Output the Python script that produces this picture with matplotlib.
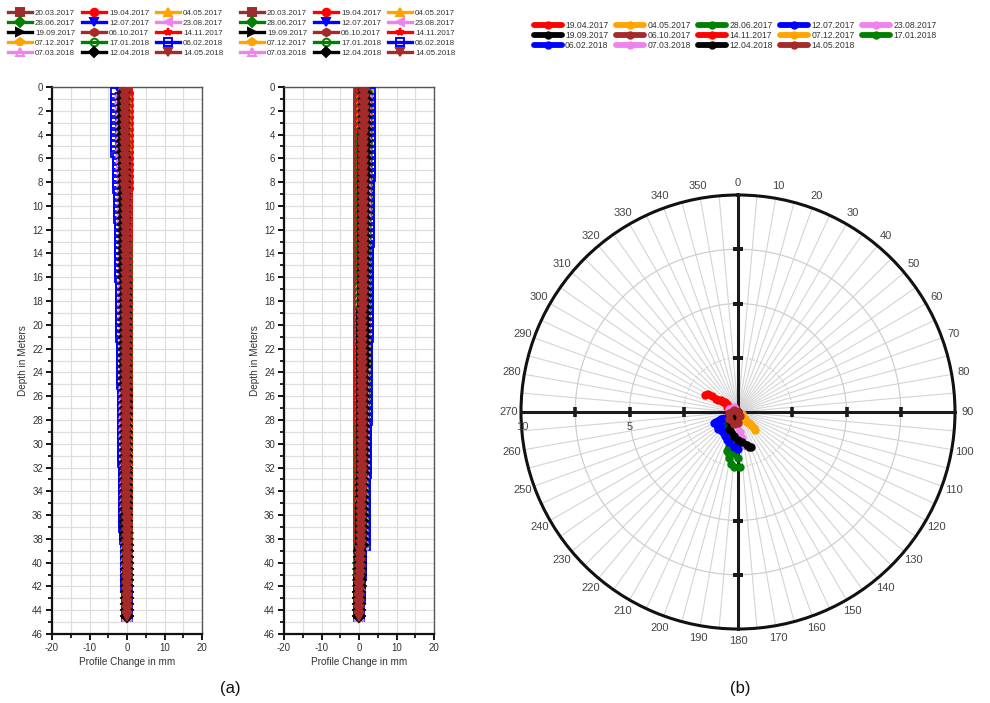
import numpy as np
import matplotlib
matplotlib.use('Agg')
import matplotlib.pyplot as plt
from matplotlib.lines import Line2D

plt.rcParams['font.family'] = ['Liberation Sans', 'DejaVu Sans']
plt.rcParams['axes.unicode_minus'] = False

# ---------------- data ----------------
dates = ['20.03.2017', '19.04.2017', '04.05.2017', '28.06.2017', '12.07.2017',
         '23.08.2017', '19.09.2017', '06.10.2017', '14.11.2017', '07.12.2017',
         '17.01.2018', '06.02.2018', '07.03.2018', '12.04.2018', '14.05.2018']

depth = np.arange(0.5, 44.51, 0.5)   # reading depths (m), 89 readings

# A-axis profile change (mm)
a_20032017 = np.zeros(89)
a_19042017 = [0.3,0.3,0.3,0.2,0.2,0.2,0.2,0.2,0.2,0.2,
              0.2,0.2,0.2,0.2,0.2,0.2,0.2,0.1,0.1,0.1,
              0.1,0.1,0.1,0.1,0.1,0.1,0.1,0.1,0.1,0.1,
              0.1,0.1,0.1,0.1,0.1,0.1,0.1,0.1,0.1,0.1,
              0.1,0.1,0.1,0.1,0.1,0.1,0.1,0.1,0.1,0.1,
              0.1,0.1,0.1,0.1,0.1,0.1,0.1,0.1,0.1,0.1,
              0.1,0.1,0.1,0.1,0.1,0.1,0.1,0.1,0.1,0.1,
              0.1,0.0,0.0,0.0,0.0,0.0,0.0,0.0,0.0,0.0,
              0.0,0.0,0.0,0.0,0.0,0.0,0.0,0.0,0.0]
a_04052017 = [-0.4,-0.4,-0.4,-0.4,-0.4,-0.4,-0.4,-0.4,-0.4,-0.4,
              -0.4,-0.3,-0.3,-0.3,-0.3,-0.3,-0.3,-0.3,-0.3,-0.3,
              -0.3,-0.3,-0.3,-0.3,-0.3,-0.3,-0.3,-0.3,-0.3,-0.2,
              -0.2,-0.2,-0.2,-0.2,-0.2,-0.2,-0.2,-0.2,-0.2,-0.2,
              -0.2,-0.2,-0.2,-0.2,-0.2,-0.2,-0.2,-0.2,-0.2,-0.2,
              -0.2,-0.2,-0.2,-0.2,-0.1,-0.1,-0.1,-0.1,-0.1,-0.1,
              -0.1,-0.1,-0.1,-0.1,-0.1,-0.1,-0.1,-0.1,-0.1,-0.1,
              -0.1,-0.1,-0.1,-0.1,-0.1,-0.1,-0.1,-0.1,0.0,0.0,
              0.0,0.0,0.0,0.0,0.0,0.0,0.0,0.0,0.0]
a_28062017 = [-0.7,-0.7,-0.7,-0.7,-0.7,-0.7,-0.7,-0.7,-0.7,-0.7,
              -0.7,-0.6,-0.6,-0.6,-0.6,-0.5,-0.5,-0.5,-0.5,-0.5,
              -0.5,-0.5,-0.5,-0.5,-0.5,-0.4,-0.4,-0.4,-0.4,-0.4,
              -0.4,-0.4,-0.4,-0.4,-0.4,-0.4,-0.4,-0.4,-0.4,-0.3,
              -0.3,-0.3,-0.3,-0.3,-0.3,-0.3,-0.3,-0.3,-0.3,-0.3,
              -0.3,-0.3,-0.3,-0.3,-0.3,-0.3,-0.3,-0.3,-0.2,-0.2,
              -0.2,-0.2,-0.2,-0.2,-0.2,-0.2,-0.2,-0.2,-0.2,-0.2,
              -0.2,-0.2,-0.2,-0.2,-0.1,-0.1,-0.1,-0.1,-0.1,-0.1,
              -0.1,0.0,0.0,0.0,0.0,0.0,0.0,0.0,0.0]
a_12072017 = [-1.6,-1.6,-1.6,-1.5,-1.5,-1.5,-1.5,-1.5,-1.5,-1.5,
              -1.5,-1.3,-1.3,-1.3,-1.3,-1.2,-1.2,-1.2,-1.2,-1.1,
              -1.1,-1.1,-1.1,-1.1,-1.1,-1.0,-1.0,-1.0,-1.0,-1.0,
              -1.0,-1.0,-0.9,-0.9,-0.9,-0.8,-0.8,-0.8,-0.8,-0.8,
              -0.8,-0.8,-0.7,-0.7,-0.7,-0.7,-0.7,-0.7,-0.7,-0.7,
              -0.6,-0.6,-0.6,-0.6,-0.6,-0.6,-0.6,-0.6,-0.5,-0.5,
              -0.5,-0.5,-0.5,-0.5,-0.5,-0.5,-0.5,-0.4,-0.4,-0.4,
              -0.4,-0.4,-0.4,-0.4,-0.3,-0.3,-0.2,-0.2,-0.2,-0.2,
              -0.2,-0.1,-0.1,-0.1,-0.1,-0.1,-0.1,0.0,0.0]
a_23082017 = [-1.2,-1.2,-1.2,-1.2,-1.2,-1.2,-1.2,-1.2,-1.2,-1.2,
              -1.2,-1.0,-1.0,-1.0,-1.0,-0.9,-0.9,-0.9,-0.9,-0.8,
              -0.8,-0.8,-0.8,-0.8,-0.8,-0.8,-0.8,-0.8,-0.8,-0.7,
              -0.7,-0.7,-0.7,-0.7,-0.7,-0.6,-0.6,-0.6,-0.6,-0.6,
              -0.6,-0.6,-0.6,-0.6,-0.6,-0.6,-0.5,-0.5,-0.5,-0.5,
              -0.5,-0.5,-0.5,-0.5,-0.4,-0.4,-0.4,-0.4,-0.4,-0.4,
              -0.4,-0.4,-0.4,-0.4,-0.4,-0.4,-0.4,-0.3,-0.3,-0.3,
              -0.3,-0.3,-0.3,-0.3,-0.2,-0.2,-0.2,-0.2,-0.1,-0.1,
              -0.1,-0.1,-0.1,-0.1,0.0,0.0,0.0,0.0,0.0]
a_19092017 = [-1.0,-1.0,-1.0,-1.0,-1.0,-1.0,-1.0,-1.0,-1.0,-1.0,
              -1.0,-0.8,-0.8,-0.8,-0.8,-0.8,-0.8,-0.7,-0.7,-0.7,
              -0.7,-0.7,-0.7,-0.7,-0.7,-0.6,-0.6,-0.6,-0.6,-0.6,
              -0.6,-0.6,-0.6,-0.6,-0.6,-0.5,-0.5,-0.5,-0.5,-0.5,
              -0.5,-0.5,-0.5,-0.5,-0.5,-0.5,-0.4,-0.4,-0.4,-0.4,
              -0.4,-0.4,-0.4,-0.4,-0.4,-0.4,-0.4,-0.4,-0.3,-0.3,
              -0.3,-0.3,-0.3,-0.3,-0.3,-0.3,-0.3,-0.3,-0.3,-0.3,
              -0.3,-0.2,-0.2,-0.2,-0.2,-0.2,-0.1,-0.1,-0.1,-0.1,
              -0.1,-0.1,-0.1,-0.1,0.0,0.0,0.0,0.0,0.0]
a_06102017 = [-0.5,-0.5,-0.5,-0.5,-0.5,-0.5,-0.5,-0.5,-0.5,-0.5,
              -0.5,-0.4,-0.4,-0.4,-0.4,-0.4,-0.4,-0.4,-0.4,-0.4,
              -0.4,-0.4,-0.3,-0.3,-0.3,-0.3,-0.3,-0.3,-0.3,-0.3,
              -0.3,-0.3,-0.3,-0.3,-0.3,-0.3,-0.3,-0.3,-0.3,-0.3,
              -0.3,-0.3,-0.2,-0.2,-0.2,-0.2,-0.2,-0.2,-0.2,-0.2,
              -0.2,-0.2,-0.2,-0.2,-0.2,-0.2,-0.2,-0.2,-0.2,-0.2,
              -0.2,-0.2,-0.2,-0.2,-0.2,-0.2,-0.2,-0.1,-0.1,-0.1,
              -0.1,-0.1,-0.1,-0.1,-0.1,-0.1,-0.1,-0.1,-0.1,-0.1,
              -0.1,0.0,0.0,0.0,0.0,0.0,0.0,0.0,0.0]
a_14112017 = [-0.3,-0.3,-0.3,-0.3,-0.3,-0.3,-0.3,-0.3,-0.3,-0.3,
              -0.3,-0.3,-0.3,-0.3,-0.3,-0.2,-0.2,-0.2,-0.2,-0.2,
              -0.2,-0.2,-0.2,-0.2,-0.2,-0.2,-0.2,-0.2,-0.2,-0.2,
              -0.2,-0.2,-0.2,-0.2,-0.2,-0.2,-0.2,-0.2,-0.2,-0.2,
              -0.2,-0.2,-0.1,-0.1,-0.1,-0.1,-0.1,-0.1,-0.1,-0.1,
              -0.1,-0.1,-0.1,-0.1,-0.1,-0.1,-0.1,-0.1,-0.1,-0.1,
              -0.1,-0.1,-0.1,-0.1,-0.1,-0.1,-0.1,-0.1,-0.1,-0.1,
              -0.1,-0.1,-0.1,-0.1,0.0,0.0,0.0,0.0,0.0,0.0,
              0.0,0.0,0.0,0.0,0.0,0.0,0.0,0.0,0.0]
a_07122017 = [-0.9,-0.9,-0.9,-0.9,-0.9,-0.9,-0.9,-0.9,-0.9,-0.9,
              -0.9,-0.7,-0.7,-0.7,-0.7,-0.7,-0.7,-0.7,-0.7,-0.6,
              -0.6,-0.6,-0.6,-0.6,-0.6,-0.6,-0.6,-0.6,-0.6,-0.6,
              -0.5,-0.5,-0.5,-0.5,-0.5,-0.5,-0.5,-0.5,-0.5,-0.5,
              -0.5,-0.5,-0.4,-0.4,-0.4,-0.4,-0.4,-0.4,-0.4,-0.4,
              -0.4,-0.4,-0.4,-0.4,-0.3,-0.3,-0.3,-0.3,-0.3,-0.3,
              -0.3,-0.3,-0.3,-0.3,-0.3,-0.3,-0.3,-0.2,-0.2,-0.2,
              -0.2,-0.2,-0.2,-0.2,-0.2,-0.2,-0.1,-0.1,-0.1,-0.1,
              -0.1,-0.1,-0.1,-0.1,0.0,0.0,0.0,0.0,0.0]
a_17012018 = [-1.4,-1.4,-1.4,-1.4,-1.4,-1.4,-1.4,-1.4,-1.4,-1.4,
              -1.4,-1.2,-1.2,-1.1,-1.1,-1.1,-1.1,-1.0,-1.0,-1.0,
              -1.0,-1.0,-0.9,-0.9,-0.9,-0.9,-0.9,-0.9,-0.9,-0.8,
              -0.8,-0.8,-0.8,-0.8,-0.8,-0.7,-0.7,-0.7,-0.7,-0.7,
              -0.7,-0.7,-0.7,-0.7,-0.7,-0.7,-0.6,-0.6,-0.6,-0.6,
              -0.6,-0.6,-0.6,-0.6,-0.5,-0.5,-0.5,-0.5,-0.5,-0.5,
              -0.5,-0.5,-0.5,-0.4,-0.4,-0.4,-0.4,-0.4,-0.4,-0.4,
              -0.4,-0.3,-0.3,-0.3,-0.3,-0.2,-0.2,-0.2,-0.1,-0.1,
              -0.1,-0.1,-0.1,-0.1,0.0,0.0,0.0,0.0,0.0]
a_06022018 = [-3.0,-3.0,-3.0,-2.9,-2.9,-2.9,-2.9,-2.9,-2.9,-2.9,
              -2.9,-2.5,-2.5,-2.4,-2.4,-2.3,-2.3,-2.2,-2.2,-2.1,
              -2.1,-2.1,-2.0,-2.0,-2.0,-1.9,-1.9,-1.9,-1.9,-1.8,
              -1.8,-1.8,-1.7,-1.7,-1.7,-1.6,-1.6,-1.6,-1.5,-1.5,
              -1.5,-1.5,-1.4,-1.4,-1.4,-1.4,-1.3,-1.3,-1.3,-1.3,
              -1.2,-1.2,-1.2,-1.2,-1.1,-1.1,-1.1,-1.1,-1.0,-1.0,
              -1.0,-1.0,-1.0,-0.9,-0.9,-0.9,-0.9,-0.8,-0.8,-0.8,
              -0.8,-0.7,-0.7,-0.7,-0.6,-0.5,-0.4,-0.4,-0.3,-0.3,
              -0.3,-0.2,-0.2,-0.2,-0.1,-0.1,-0.1,0.0,0.0]
a_07032018 = [-1.8,-1.8,-1.8,-1.7,-1.7,-1.7,-1.7,-1.7,-1.7,-1.7,
              -1.7,-1.5,-1.5,-1.4,-1.4,-1.4,-1.4,-1.3,-1.3,-1.3,
              -1.3,-1.3,-1.2,-1.2,-1.2,-1.1,-1.1,-1.1,-1.1,-1.1,
              -1.1,-1.1,-1.0,-1.0,-1.0,-1.0,-1.0,-1.0,-0.9,-0.9,
              -0.9,-0.9,-0.8,-0.8,-0.8,-0.8,-0.8,-0.8,-0.8,-0.8,
              -0.7,-0.7,-0.7,-0.7,-0.7,-0.7,-0.7,-0.7,-0.6,-0.6,
              -0.6,-0.6,-0.6,-0.5,-0.5,-0.5,-0.5,-0.5,-0.5,-0.5,
              -0.5,-0.4,-0.4,-0.4,-0.4,-0.3,-0.2,-0.2,-0.2,-0.2,
              -0.2,-0.1,-0.1,-0.1,-0.1,-0.1,-0.1,0.0,0.0]
a_12042018 = [-1.1,-1.1,-1.1,-1.1,-1.1,-1.1,-1.1,-1.1,-1.1,-1.1,
              -1.1,-0.9,-0.9,-0.9,-0.9,-0.8,-0.8,-0.8,-0.8,-0.8,
              -0.8,-0.8,-0.7,-0.7,-0.7,-0.7,-0.7,-0.7,-0.7,-0.7,
              -0.7,-0.7,-0.6,-0.6,-0.6,-0.6,-0.6,-0.6,-0.6,-0.6,
              -0.6,-0.6,-0.5,-0.5,-0.5,-0.5,-0.5,-0.5,-0.5,-0.5,
              -0.4,-0.4,-0.4,-0.4,-0.4,-0.4,-0.4,-0.4,-0.4,-0.4,
              -0.4,-0.4,-0.4,-0.3,-0.3,-0.3,-0.3,-0.3,-0.3,-0.3,
              -0.3,-0.3,-0.3,-0.3,-0.2,-0.2,-0.1,-0.1,-0.1,-0.1,
              -0.1,-0.1,-0.1,-0.1,0.0,0.0,0.0,0.0,0.0]
a_14052018 = [-0.6,-0.6,-0.6,-0.6,-0.6,-0.6,-0.6,-0.6,-0.6,-0.6,
              -0.6,-0.5,-0.5,-0.5,-0.5,-0.5,-0.5,-0.4,-0.4,-0.4,
              -0.4,-0.4,-0.4,-0.4,-0.4,-0.4,-0.4,-0.4,-0.4,-0.4,
              -0.4,-0.4,-0.3,-0.3,-0.3,-0.3,-0.3,-0.3,-0.3,-0.3,
              -0.3,-0.3,-0.3,-0.3,-0.3,-0.3,-0.3,-0.3,-0.3,-0.3,
              -0.2,-0.2,-0.2,-0.2,-0.2,-0.2,-0.2,-0.2,-0.2,-0.2,
              -0.2,-0.2,-0.2,-0.2,-0.2,-0.2,-0.2,-0.2,-0.2,-0.2,
              -0.2,-0.1,-0.1,-0.1,-0.1,-0.1,-0.1,-0.1,-0.1,-0.1,
              -0.1,0.0,0.0,0.0,0.0,0.0,0.0,0.0,0.0]

# B-axis profile change (mm)
b_20032017 = np.zeros(89)
b_19042017 = [0.2,0.2,0.2,0.2,0.2,0.2,0.2,0.2,0.2,0.2,
              0.2,0.2,0.2,0.2,0.2,0.2,0.2,0.2,0.2,0.2,
              0.2,0.2,0.2,0.2,0.2,0.2,0.2,0.2,0.2,0.2,
              0.2,0.2,0.2,0.2,0.2,0.2,0.2,0.2,0.2,0.2,
              0.2,0.2,0.1,0.1,0.1,0.1,0.1,0.1,0.1,0.1,
              0.1,0.1,0.1,0.1,0.1,0.1,0.1,0.1,0.1,0.1,
              0.1,0.1,0.1,0.1,0.1,0.1,0.1,0.1,0.1,0.1,
              0.1,0.1,0.1,0.1,0.1,0.1,0.1,0.0,0.0,0.0,
              0.0,0.0,0.0,0.0,0.0,0.0,0.0,0.0,0.0]
b_04052017 = [0.8,0.8,0.8,0.8,0.8,0.8,0.8,0.8,0.8,0.8,
              0.7,0.7,0.7,0.7,0.7,0.7,0.7,0.7,0.7,0.7,
              0.7,0.7,0.7,0.7,0.7,0.7,0.7,0.7,0.7,0.7,
              0.7,0.7,0.6,0.6,0.6,0.6,0.6,0.6,0.6,0.6,
              0.6,0.6,0.6,0.6,0.6,0.6,0.6,0.6,0.6,0.6,
              0.6,0.6,0.5,0.5,0.5,0.5,0.5,0.5,0.5,0.5,
              0.5,0.5,0.5,0.5,0.5,0.5,0.5,0.5,0.5,0.4,
              0.4,0.4,0.4,0.4,0.4,0.4,0.4,0.1,0.1,0.1,
              0.1,0.1,0.1,0.1,0.1,0.1,0.0,0.0,0.0]
b_28062017 = [1.0,1.0,1.0,1.0,1.0,1.0,1.0,0.9,0.9,0.9,
              0.9,0.9,0.9,0.9,0.9,0.9,0.9,0.9,0.9,0.9,
              0.9,0.9,0.9,0.9,0.9,0.9,0.8,0.8,0.8,0.8,
              0.8,0.8,0.8,0.8,0.8,0.8,0.8,0.8,0.8,0.8,
              0.8,0.8,0.7,0.7,0.7,0.7,0.7,0.7,0.7,0.7,
              0.7,0.7,0.7,0.7,0.7,0.7,0.6,0.6,0.6,0.6,
              0.6,0.6,0.6,0.6,0.6,0.6,0.6,0.6,0.6,0.5,
              0.5,0.5,0.5,0.5,0.5,0.5,0.5,0.2,0.2,0.1,
              0.1,0.1,0.1,0.1,0.1,0.1,0.0,0.0,0.0]
b_12072017 = [2.4,2.3,2.3,2.3,2.3,2.3,2.3,2.2,2.2,2.2,
              2.2,2.2,2.2,2.2,2.2,2.2,2.2,2.2,2.2,2.2,
              2.2,2.1,2.1,2.1,2.1,2.1,2.0,2.0,2.0,2.0,
              2.0,2.0,1.9,1.9,1.9,1.9,1.9,1.8,1.8,1.8,
              1.8,1.8,1.8,1.8,1.8,1.8,1.8,1.7,1.7,1.7,
              1.7,1.7,1.6,1.6,1.6,1.6,1.5,1.5,1.5,1.5,
              1.5,1.4,1.4,1.4,1.4,1.4,1.4,1.4,1.4,1.3,
              1.3,1.3,1.3,1.2,1.2,1.2,1.2,0.4,0.4,0.3,
              0.3,0.3,0.2,0.2,0.2,0.2,0.1,0.1,0.0]
b_23082017 = [1.8,1.7,1.7,1.7,1.7,1.7,1.7,1.7,1.7,1.7,
              1.7,1.7,1.7,1.7,1.7,1.6,1.6,1.6,1.6,1.6,
              1.6,1.6,1.6,1.6,1.6,1.6,1.5,1.5,1.5,1.5,
              1.5,1.5,1.4,1.4,1.4,1.4,1.4,1.4,1.4,1.4,
              1.4,1.4,1.3,1.3,1.3,1.3,1.3,1.3,1.3,1.3,
              1.3,1.3,1.2,1.2,1.2,1.2,1.1,1.1,1.1,1.1,
              1.1,1.1,1.1,1.1,1.1,1.0,1.0,1.0,1.0,1.0,
              1.0,1.0,1.0,0.9,0.9,0.9,0.9,0.3,0.3,0.2,
              0.2,0.2,0.2,0.2,0.1,0.1,0.1,0.1,0.0]
b_19092017 = [1.2,1.2,1.2,1.2,1.2,1.2,1.2,1.1,1.1,1.1,
              1.1,1.1,1.1,1.1,1.1,1.1,1.1,1.1,1.1,1.1,
              1.1,1.0,1.0,1.0,1.0,1.0,1.0,1.0,1.0,1.0,
              1.0,1.0,1.0,1.0,1.0,1.0,1.0,0.9,0.9,0.9,
              0.9,0.9,0.9,0.9,0.9,0.9,0.9,0.8,0.8,0.8,
              0.8,0.8,0.8,0.8,0.8,0.8,0.8,0.8,0.8,0.8,
              0.8,0.7,0.7,0.7,0.7,0.7,0.7,0.7,0.7,0.7,
              0.6,0.6,0.6,0.6,0.6,0.6,0.6,0.2,0.2,0.2,
              0.2,0.2,0.1,0.1,0.1,0.1,0.0,0.0,0.0]
b_06102017 = [0.9,0.9,0.9,0.9,0.9,0.9,0.9,0.9,0.9,0.9,
              0.8,0.8,0.8,0.8,0.8,0.8,0.8,0.8,0.8,0.8,
              0.8,0.8,0.8,0.8,0.8,0.8,0.8,0.8,0.8,0.8,
              0.7,0.7,0.7,0.7,0.7,0.7,0.7,0.7,0.7,0.7,
              0.7,0.7,0.7,0.7,0.7,0.7,0.7,0.6,0.6,0.6,
              0.6,0.6,0.6,0.6,0.6,0.6,0.6,0.6,0.6,0.6,
              0.6,0.5,0.5,0.5,0.5,0.5,0.5,0.5,0.5,0.5,
              0.5,0.5,0.5,0.5,0.5,0.5,0.5,0.2,0.2,0.1,
              0.1,0.1,0.1,0.1,0.1,0.1,0.0,0.0,0.0]
b_14112017 = [1.5,1.5,1.5,1.5,1.5,1.5,1.5,1.4,1.4,1.4,
              1.4,1.4,1.4,1.4,1.4,1.4,1.4,1.4,1.4,1.4,
              1.4,1.3,1.3,1.3,1.3,1.3,1.2,1.2,1.2,1.2,
              1.2,1.2,1.2,1.2,1.2,1.2,1.2,1.2,1.2,1.2,
              1.2,1.2,1.1,1.1,1.1,1.1,1.1,1.1,1.1,1.1,
              1.1,1.1,1.0,1.0,1.0,1.0,0.9,0.9,0.9,0.9,
              0.9,0.9,0.9,0.9,0.9,0.9,0.9,0.9,0.9,0.8,
              0.8,0.8,0.8,0.8,0.8,0.8,0.8,0.3,0.3,0.2,
              0.2,0.2,0.2,0.2,0.1,0.1,0.0,0.0,0.0]
b_07122017 = [3.2,3.1,3.0,2.8,2.8,2.8,2.8,2.7,2.7,2.7,
              2.7,2.7,2.7,2.7,2.7,2.6,2.6,2.6,2.6,2.6,
              2.6,2.5,2.5,2.5,2.5,2.5,2.4,2.4,2.4,2.4,
              2.4,2.4,2.3,2.3,2.3,2.3,2.3,2.2,2.2,2.2,
              2.2,2.2,2.1,2.1,2.1,2.1,2.1,2.0,2.0,2.0,
              2.0,2.0,1.9,1.9,1.9,1.9,1.8,1.8,1.8,1.8,
              1.8,1.7,1.7,1.7,1.7,1.6,1.6,1.6,1.6,1.5,
              1.5,1.5,1.5,1.4,1.4,1.4,1.4,0.4,0.4,0.3,
              0.3,0.3,0.2,0.2,0.1,0.1,0.1,0.0,0.0]
b_17012018 = [2.2,2.1,2.1,2.1,2.1,2.1,2.1,2.0,2.0,2.0,
              2.0,2.0,2.0,2.0,2.0,2.0,2.0,2.0,2.0,2.0,
              2.0,1.9,1.9,1.9,1.9,1.9,1.8,1.8,1.8,1.8,
              1.8,1.8,1.8,1.8,1.8,1.8,1.8,1.7,1.7,1.7,
              1.7,1.7,1.6,1.6,1.6,1.6,1.6,1.5,1.5,1.5,
              1.5,1.5,1.5,1.5,1.5,1.5,1.4,1.4,1.4,1.4,
              1.4,1.3,1.3,1.3,1.3,1.3,1.3,1.3,1.3,1.2,
              1.2,1.2,1.2,1.1,1.1,1.1,1.1,0.4,0.4,0.3,
              0.3,0.3,0.2,0.2,0.2,0.2,0.1,0.1,0.0]
b_06022018 = [3.0,2.9,2.9,2.9,2.9,2.9,2.9,2.8,2.8,2.8,
              2.8,2.8,2.8,2.8,2.8,2.7,2.7,2.7,2.7,2.7,
              2.7,2.6,2.6,2.6,2.6,2.6,2.5,2.5,2.5,2.5,
              2.5,2.5,2.4,2.4,2.4,2.4,2.4,2.3,2.3,2.3,
              2.3,2.3,2.2,2.2,2.2,2.2,2.2,2.1,2.1,2.1,
              2.1,2.1,2.0,2.0,2.0,2.0,1.9,1.9,1.9,1.9,
              1.9,1.8,1.8,1.8,1.8,1.7,1.7,1.7,1.7,1.6,
              1.6,1.6,1.6,1.5,1.5,1.5,1.5,0.5,0.5,0.4,
              0.4,0.4,0.3,0.3,0.2,0.2,0.1,0.1,0.0]
b_07032018 = [2.0,1.9,1.9,1.9,1.9,1.9,1.9,1.9,1.9,1.9,
              1.9,1.9,1.9,1.9,1.9,1.8,1.8,1.8,1.8,1.8,
              1.8,1.7,1.7,1.7,1.7,1.7,1.7,1.7,1.7,1.7,
              1.7,1.7,1.6,1.6,1.6,1.6,1.6,1.5,1.5,1.5,
              1.5,1.5,1.5,1.5,1.5,1.5,1.5,1.4,1.4,1.4,
              1.4,1.4,1.3,1.3,1.3,1.3,1.3,1.3,1.3,1.3,
              1.3,1.2,1.2,1.2,1.2,1.1,1.1,1.1,1.1,1.1,
              1.1,1.1,1.1,1.0,1.0,1.0,1.0,0.3,0.3,0.3,
              0.3,0.3,0.2,0.2,0.1,0.1,0.1,0.1,0.0]
b_12042018 = [1.6,1.6,1.6,1.6,1.6,1.6,1.6,1.5,1.5,1.5,
              1.5,1.5,1.5,1.5,1.5,1.4,1.4,1.4,1.4,1.4,
              1.4,1.4,1.4,1.4,1.4,1.4,1.3,1.3,1.3,1.3,
              1.3,1.3,1.3,1.3,1.3,1.3,1.3,1.2,1.2,1.2,
              1.2,1.2,1.2,1.2,1.2,1.2,1.2,1.1,1.1,1.1,
              1.1,1.1,1.1,1.1,1.1,1.1,1.0,1.0,1.0,1.0,
              1.0,1.0,1.0,1.0,1.0,0.9,0.9,0.9,0.9,0.9,
              0.9,0.9,0.9,0.8,0.8,0.8,0.8,0.3,0.3,0.2,
              0.2,0.2,0.2,0.2,0.1,0.1,0.1,0.0,0.0]
b_14052018 = [1.2,1.2,1.2,1.2,1.2,1.2,1.2,1.1,1.1,1.1,
              1.1,1.1,1.1,1.1,1.1,1.1,1.1,1.1,1.1,1.1,
              1.1,1.0,1.0,1.0,1.0,1.0,1.0,1.0,1.0,1.0,
              1.0,1.0,1.0,1.0,1.0,1.0,1.0,0.9,0.9,0.9,
              0.9,0.9,0.9,0.9,0.9,0.9,0.9,0.8,0.8,0.8,
              0.8,0.8,0.8,0.8,0.8,0.8,0.8,0.8,0.8,0.8,
              0.8,0.7,0.7,0.7,0.7,0.7,0.7,0.7,0.7,0.6,
              0.6,0.6,0.6,0.6,0.6,0.6,0.6,0.2,0.2,0.2,
              0.2,0.2,0.1,0.1,0.1,0.1,0.0,0.0,0.0]

# Polar plot: resultant displacement paths (east, north components)
p_19042017_x = [0.0, -0.1, -0.3, -0.5, -0.6, -0.8, -1.0, -1.2, -1.4, -1.5]
p_19042017_y = [0.0, 0.15, 0.2, 0.25, 0.45, 0.55, 0.6, 0.75, 0.85, 0.8]
p_04052017_x = [0.0, 0.2, 0.4, 0.6, 0.75, 0.8]
p_04052017_y = [0.0, -0.2, -0.45, -0.6, -0.75, -0.85]
p_28062017_x = [0.0, -0.3, -0.6, -0.5, -0.4, -0.5, -0.4, -0.3, -0.2, 0.1]
p_28062017_y = [0.0, -0.3, -0.6, -1.0, -1.4, -1.8, -2.1, -2.4, -2.55, -2.55]
p_12072017_x = [0.0, -0.3, -0.7, -1.0, -0.8, -0.6, -0.5, -0.3, -0.1]
p_12072017_y = [0.0, -0.2, -0.3, -0.45, -0.7, -1.0, -1.3, -1.5, -1.6]
p_23082017_x = [0.0, -0.2, -0.3, -0.2, 0.0, 0.2]
p_23082017_y = [0.0, 0.2, 0.1, -0.1, -0.2, -0.1]
p_19092017_x = [0.0, -0.2, -0.4, -0.3, -0.1, 0.1, 0.3, 0.5]
p_19092017_y = [0.0, -0.3, -0.6, -0.9, -1.2, -1.4, -1.5, -1.6]
p_06102017_x = [0.0, -0.1, -0.3, -0.2, 0.0, 0.1]
p_06102017_y = [0.0, 0.1, -0.1, -0.3, -0.4, -0.2]
p_14112017_x = [0.0, -0.1, -0.3, -0.5, -0.7, -0.9]
p_14112017_y = [0.0, 0.1, 0.2, 0.35, 0.45, 0.55]
p_07122017_x = [0.0, 0.2, 0.3, 0.5, 0.6]
p_07122017_y = [0.0, -0.1, -0.3, -0.5, -0.6]
p_17012018_x = [0.0, -0.2, -0.4, -0.4, -0.3, -0.2, 0.0]
p_17012018_y = [0.0, -0.3, -0.7, -1.1, -1.5, -1.9, -2.1]
p_06022018_x = [0.0, -0.4, -0.8, -1.1, -0.9, -0.6, -0.4, -0.2, 0.0]
p_06022018_y = [0.0, -0.2, -0.3, -0.5, -0.8, -1.1, -1.4, -1.6, -1.7]
p_07032018_x = [0.0, -0.2, -0.4, -0.3, -0.1, 0.1, 0.2, 0.3]
p_07032018_y = [0.0, 0.25, 0.15, -0.2, -0.5, -0.9, -1.2, -1.5]
p_12042018_x = [0.0, -0.1, -0.3, -0.4, -0.2, 0.0, 0.2, 0.4, 0.6]
p_12042018_y = [0.0, -0.2, -0.5, -0.8, -1.1, -1.3, -1.4, -1.5, -1.6]
p_14052018_x = [0.0, -0.2, -0.4, -0.4, -0.2, 0.0, 0.1]
p_14052018_y = [0.0, 0.1, -0.05, -0.3, -0.55, -0.5, -0.2]

angle_labels = [str(a) for a in range(0, 360, 10)]

a_series = [a_20032017, a_19042017, a_04052017, a_28062017, a_12072017, a_23082017,
            a_19092017, a_06102017, a_14112017, a_07122017, a_17012018, a_06022018,
            a_07032018, a_12042018, a_14052018]
b_series = [b_20032017, b_19042017, b_04052017, b_28062017, b_12072017, b_23082017,
            b_19092017, b_06102017, b_14112017, b_07122017, b_17012018, b_06022018,
            b_07032018, b_12042018, b_14052018]
p_series = [(p_19042017_x, p_19042017_y), (p_04052017_x, p_04052017_y),
            (p_28062017_x, p_28062017_y), (p_12072017_x, p_12072017_y),
            (p_23082017_x, p_23082017_y), (p_19092017_x, p_19092017_y),
            (p_06102017_x, p_06102017_y), (p_14112017_x, p_14112017_y),
            (p_07122017_x, p_07122017_y), (p_17012018_x, p_17012018_y),
            (p_06022018_x, p_06022018_y), (p_07032018_x, p_07032018_y),
            (p_12042018_x, p_12042018_y), (p_14052018_x, p_14052018_y)]

# ---------------- style ----------------
colors = ['#9B2D2D', '#FF0000', '#FFA500', '#008000', '#0000FF', '#EE82EE', '#000000',
          '#A52A2A', '#FF0000', '#FFA500', '#008000', '#0000FF', '#EE82EE', '#000000', '#A52A2A']
markers = ['s', 'o', '^', 'D', 'v', '<', '>', 'h', '*', 'p', 'o', 's', '^', 'D', 'v']
hollow = [False] * 10 + [True, True, True, False, False]
TXT = '#333333'

fig = plt.figure(figsize=(9.9, 7.03), dpi=100)


def style_profile(ax):
    ax.set_xlim(-20, 20)
    ax.set_ylim(46, 0)
    ax.set_xticks([-20, -10, 0, 10, 20])
    ax.set_xticks([-15, -5, 5, 15], minor=True)
    ax.set_yticks(np.arange(0, 47, 2))
    ax.set_yticks(np.arange(1, 46, 2), minor=True)
    ax.grid(True, which='both', color='#dedede', lw=0.9)
    ax.set_axisbelow(True)
    for s in ['left', 'bottom']:
        ax.spines[s].set_linewidth(1.6)
        ax.spines[s].set_color('#111111')
    for s in ['top', 'right']:
        ax.spines[s].set_linewidth(1.0)
        ax.spines[s].set_color('#555555')
    ax.tick_params(which='major', direction='out', length=4.5, width=1.3,
                   labelsize=7, labelcolor=TXT, pad=2)
    ax.tick_params(which='minor', direction='out', length=2.8, width=1.2)
    ax.set_xlabel('Profile Change in mm', fontsize=7.2, color=TXT, labelpad=3)
    ax.set_ylabel('Depth in Meters', fontsize=7.2, color=TXT, labelpad=3)


def profile_legend(ax, x0):
    hs = []
    for i in range(15):
        hs.append(Line2D([], [], color=colors[i], marker=markers[i], lw=2.4, ms=5.5,
                         mfc='none' if hollow[i] else colors[i], mew=1.4))
    order = [0, 3, 6, 9, 12, 1, 4, 7, 10, 13, 2, 5, 8, 11, 14]
    fig.legend([hs[k] for k in order], [dates[k] for k in order], loc='upper left',
               bbox_to_anchor=(x0 / 990, 1 - 9 / 703), ncol=3, fontsize=5.8,
               frameon=False, handlelength=3.0, handletextpad=0.35,
               columnspacing=0.85, labelspacing=0.3, borderpad=0, borderaxespad=0,
               labelcolor=TXT)


for k, (series, left_px, leg_x) in enumerate([(a_series, 52, 8), (b_series, 284, 240)]):
    ax = fig.add_axes([left_px / 990, 69 / 703, 150 / 990, 547 / 703])
    for i in range(15):
        ax.plot(series[i], depth, color=colors[i], marker=markers[i], ms=6.6, lw=1.3,
                mfc='none' if hollow[i] else colors[i], mew=1.3, zorder=3 + i)
    style_profile(ax)
    profile_legend(ax, leg_x)

fig.text(230 / 990, 1 - 688 / 703, '(a)', fontsize=12, ha='center', va='center', color='#111')
fig.text(740 / 990, 1 - 688 / 703, '(b)', fontsize=12, ha='center', va='center', color='#111')

# ---------------- polar plot ----------------
pax = fig.add_axes([521 / 990, 74 / 703, 434 / 990, 434 / 703], projection='polar')
pax.set_theta_zero_location('N')
pax.set_theta_direction(-1)
pax.set_ylim(0, 10)
pax.set_yticks([2.5, 5, 7.5])
pax.set_yticklabels([])
pax.set_xticks(np.deg2rad(np.arange(0, 360, 10)))
pax.set_xticklabels(angle_labels)
pax.set_xticks(np.deg2rad(np.arange(5, 360, 10)), minor=True)
pax.xaxis.grid(True, which='both', color='#d4d4d4', lw=0.8)
pax.yaxis.grid(True, color='#cfcfcf', lw=0.9)
gls = pax.yaxis.get_gridlines()
if len(gls) > 0:
    gls[0].set_linestyle((0, (1.5, 1.5)))
pax.spines['polar'].set_linewidth(2.2)
pax.spines['polar'].set_color('#111111')
pax.tick_params(axis='x', which='major', direction='out', length=5, width=1.4,
                colors='#111111', labelcolor='#444444', labelsize=8, pad=-3)
pax.tick_params(axis='x', which='minor', direction='out', length=4, width=1.2,
                colors='#111111')

# crosshair axes with ticks
for ang in [0, 90, 180, 270]:
    th = np.deg2rad(ang)
    pax.plot([th, th], [0, 10], color='#1a1a1a', lw=2.2, zorder=4, clip_on=False)
    mk = '_' if ang in (0, 180) else '|'
    pax.plot([th, th, th], [2.5, 5, 7.5], ls='none', marker=mk, ms=7, mew=2.6,
             color='#1a1a1a', zorder=4)
pax.annotate('10', xy=(np.deg2rad(270), 10), xytext=(1, -11), textcoords='offset points',
             ha='center', va='center', fontsize=8, color='#444444')
pax.annotate('5', xy=(np.deg2rad(270), 5), xytext=(0, -11), textcoords='offset points',
             ha='center', va='center', fontsize=8, color='#444444')

p_handles = []
for j, (px, py) in enumerate(p_series):
    px = np.asarray(px)
    py = np.asarray(py)
    th = np.arctan2(px, py)
    rr = np.hypot(px, py)
    h, = pax.plot(th, rr, color=colors[j + 1], lw=4.2, marker='o', ms=5,
                  solid_capstyle='round', solid_joinstyle='round', zorder=6 + j)
    p_handles.append(h)

order_b = [0, 5, 10, 1, 6, 11, 2, 7, 12, 3, 8, 13, 4, 9]
fig.legend([p_handles[k] for k in order_b], [dates[k + 1] for k in order_b],
           loc='upper left', bbox_to_anchor=(534 / 990, 1 - 21 / 703), ncol=5,
           fontsize=6.2, frameon=False, handlelength=3.2, handletextpad=0.4,
           columnspacing=0.9, labelspacing=0.1, borderpad=0, borderaxespad=0,
           labelcolor=TXT)

fig.savefig('out.png', dpi=100)
